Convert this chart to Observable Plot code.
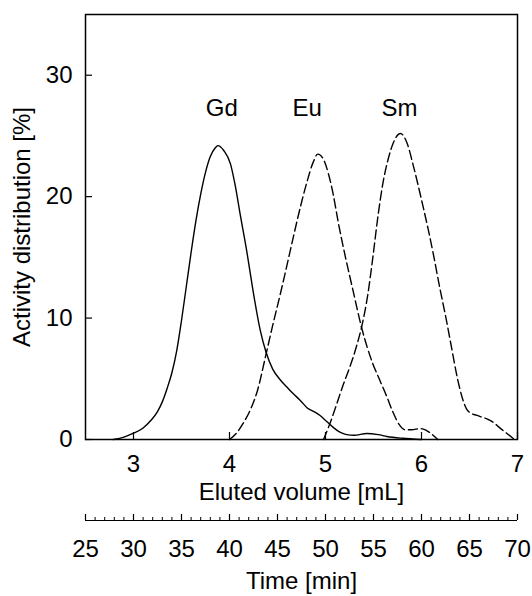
<!DOCTYPE html>
<html>
<head>
<meta charset="utf-8">
<script src="https://cdn.jsdelivr.net/npm/d3@7"></script>
<script src="https://cdn.jsdelivr.net/npm/@observablehq/plot@0.6"></script>
<style>
  html, body { margin: 0; padding: 0; background: #fff; }
  #chart svg { display: block; }
</style>
</head>
<body>
<div id="chart"></div>
<script>
// ---- Data ----
const gdVolume   = [2.79, 2.90, 3.00, 3.10, 3.18, 3.25, 3.30, 3.35, 3.40, 3.45, 3.50, 3.55, 3.60, 3.65, 3.70, 3.75, 3.80, 3.85, 3.88, 3.94, 4.01, 4.06, 4.11, 4.18, 4.24, 4.32, 4.38, 4.45, 4.53, 4.60, 4.66, 4.74, 4.81, 4.88, 4.94, 5.01, 5.08, 5.15, 5.22, 5.30, 5.43, 5.55, 5.64, 5.80, 6.00];
const gdActivity = [0.00, 0.20, 0.52, 0.95, 1.56, 2.30, 3.10, 4.20, 5.50, 7.30, 9.80, 12.6, 15.4, 18.0, 20.2, 22.0, 23.3, 24.0, 24.2, 23.8, 22.7, 20.9, 18.6, 15.5, 12.5, 9.00, 7.20, 5.80, 4.90, 4.30, 3.80, 3.20, 2.60, 2.30, 2.00, 1.50, 1.00, 0.60, 0.40, 0.35, 0.50, 0.40, 0.25, 0.10, 0.00];

const euVolume   = [4.00, 4.07, 4.14, 4.22, 4.29, 4.38, 4.45, 4.53, 4.60, 4.66, 4.74, 4.81, 4.87, 4.92, 4.97, 5.03, 5.08, 5.13, 5.20, 5.28, 5.38, 5.49, 5.57, 5.64, 5.70, 5.77, 5.83, 5.90, 5.98, 6.04, 6.09, 6.17];
const euActivity = [0.00, 0.50, 1.30, 2.50, 4.00, 7.00, 9.40, 12.0, 14.4, 16.5, 19.2, 21.3, 22.8, 23.5, 23.2, 21.9, 20.2, 18.0, 15.3, 12.5, 9.10, 6.30, 4.80, 3.50, 2.30, 1.20, 0.80, 0.80, 0.90, 0.80, 0.55, 0.00];

const smVolume   = [4.98, 5.05, 5.12, 5.18, 5.25, 5.32, 5.38, 5.44, 5.49, 5.55, 5.60, 5.65, 5.71, 5.78, 5.85, 5.91, 5.96, 6.01, 6.07, 6.13, 6.19, 6.25, 6.31, 6.37, 6.43, 6.47, 6.52, 6.57, 6.68, 6.75, 6.81, 6.89, 6.97];
const smActivity = [0.00, 1.40, 3.00, 4.40, 5.90, 7.60, 9.40, 11.9, 14.8, 18.6, 21.2, 23.0, 24.5, 25.2, 24.4, 22.7, 21.1, 19.4, 17.3, 15.0, 12.5, 10.2, 7.70, 5.20, 3.30, 2.50, 2.15, 2.00, 1.70, 1.40, 1.00, 0.50, 0.00];

const seriesNames    = ["Gd", "Eu", "Sm"];
const labelVolume    = [3.92, 4.81, 5.77];
const labelActivity  = [27.3, 27.3, 27.3];

const volumeTicks    = [3, 4, 5, 6, 7];
const activityTicks  = [0, 10, 20, 30];
const timeMajorTicks = [25, 30, 35, 40, 45, 50, 55, 60, 65, 70];
const timeMinorTicks = d3.range(25, 71, 1);
const flowRate = 0.1; // mL per min: volume = time * flowRate

// ---- Tables built from the arrays ----
const toRows = (vs, as) => vs.map((v, i) => ({volume: v, activity: as[i]}));
const gd = toRows(gdVolume, gdActivity);
const eu = toRows(euVolume, euActivity);
const sm = toRows(smVolume, smActivity);
const labels = seriesNames.map((n, i) => ({name: n, volume: labelVolume[i], activity: labelActivity[i]}));

const timeOffset = 81;

const chart = Plot.plot({
  width: 532,
  height: 596,
  marginTop: 14,
  marginLeft: 85,
  marginRight: 15,
  marginBottom: 157,
  style: {fontFamily: "'Liberation Sans', Arial, sans-serif", fontSize: "24px", color: "#000", background: "#fff"},
  x: {domain: [2.5, 7]},
  y: {domain: [0, 35]},
  marks: [
    // inward tick marks for the main axes
    Plot.axisX(volumeTicks, {tickSize: -7, fill: "none", strokeWidth: 1.2}),
    Plot.axisY(activityTicks, {tickSize: -7, fill: "none", strokeWidth: 1.2}),
    // tick labels
    Plot.axisX(volumeTicks, {tickSize: 0, tickPadding: 15, label: null, tickFormat: d => String(d)}),
    Plot.axisY(activityTicks, {tickSize: 0, tickPadding: 13, label: null, tickFormat: d => String(d)}),
    // secondary time axis
    Plot.ruleY([0], {dy: timeOffset, strokeWidth: 1.2}),
    Plot.axisX(timeMajorTicks.map(t => t * flowRate), {tickSize: -6, fill: "none", dy: timeOffset, strokeWidth: 1.2}),
    Plot.axisX(timeMinorTicks.map(t => t * flowRate), {tickSize: -3, fill: "none", dy: timeOffset, strokeWidth: 1}),
    Plot.axisX(timeMajorTicks.map(t => t * flowRate), {tickSize: 0, tickPadding: 19, dy: timeOffset, label: null, tickFormat: v => String(Math.round(v / flowRate))}),
    // axis titles
    Plot.text(["Eluted volume [mL]"], {frameAnchor: "bottom", dy: 60}),
    Plot.text(["Time [min]"], {frameAnchor: "bottom", dy: 149}),
    Plot.text(["Activity distribution [%]"], {frameAnchor: "left", dx: -63, rotate: -90, textAnchor: "middle"}),
    // curves
    Plot.line(gd, {x: "volume", y: "activity", stroke: "#000", strokeWidth: 1.4, curve: "monotone-x"}),
    Plot.line(eu, {x: "volume", y: "activity", stroke: "#000", strokeWidth: 1.4, strokeDasharray: "9,4", curve: "monotone-x"}),
    Plot.line(sm, {x: "volume", y: "activity", stroke: "#000", strokeWidth: 1.4, strokeDasharray: "9,4", curve: "monotone-x"}),
    // series labels
    Plot.text(labels, {x: "volume", y: "activity", text: "name"}),
    Plot.frame({strokeWidth: 1.5})
  ]
});

document.getElementById("chart").appendChild(chart);
</script>
</body>
</html>
